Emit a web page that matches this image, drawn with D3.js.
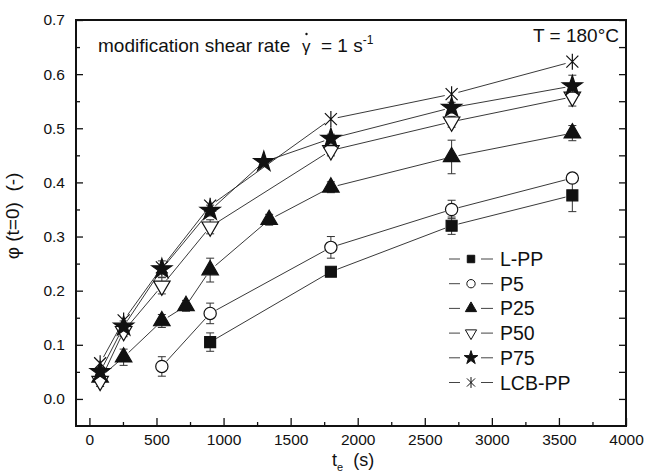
<!DOCTYPE html>
<html>
<head>
<meta charset="utf-8">
<script src="https://cdn.jsdelivr.net/npm/d3@7"></script>
<style>
  body { margin: 0; background: #fff; }
  text { font-family: "Liberation Sans", Arial, sans-serif; fill: #111; }
</style>
</head>
<body>
<script>
var svgWidth = 646;
var svgHeight = 474;

// DATA
var seriesNames = ["L-PP", "P5", "P25", "P50", "P75", "LCB-PP"];

var lppTime = [900, 1800, 2700, 3600];
var lppPhi  = [0.105, 0.235, 0.32, 0.376];
var lppErr  = [0.017, 0.008, 0.016, 0.03];

var p5Time = [540, 900, 1800, 2700, 3600];
var p5Phi  = [0.06, 0.158, 0.28, 0.35, 0.408];
var p5Err  = [0.018, 0.019, 0.02, 0.017, 0.008];

var p25Time = [80, 255, 540, 720, 900, 1340, 1800, 2700, 3600];
var p25Phi  = [0.04, 0.077, 0.144, 0.172, 0.238, 0.331, 0.391, 0.447, 0.491];
var p25Err  = [0.008, 0.015, 0.012, 0.01, 0.022, 0.01, 0.01, 0.031, 0.014];

var p50Time = [80, 255, 540, 900, 1800, 2700, 3600];
var p50Phi  = [0.033, 0.125, 0.209, 0.318, 0.459, 0.512, 0.558];
var p50Err  = [0.01, 0.01, 0.015, 0.013, 0.01, 0.01, 0.017];

var p75Time = [80, 255, 540, 900, 1300, 1800, 2700, 3600];
var p75Phi  = [0.05, 0.134, 0.24, 0.348, 0.438, 0.481, 0.538, 0.578];
var p75Err  = [0.008, 0.01, 0.015, 0.01, 0.006, 0.008, 0.01, 0.02];

var lcbTime = [80, 255, 540, 900, 1800, 2700, 3600];
var lcbPhi  = [0.066, 0.145, 0.243, 0.357, 0.517, 0.563, 0.623];
var lcbErr  = [0, 0, 0, 0, 0, 0, 0];

var xMajorTicks = [0, 500, 1000, 1500, 2000, 2500, 3000, 3500, 4000];
var yMajorTicks = [0.0, 0.1, 0.2, 0.3, 0.4, 0.5, 0.6, 0.7];

var margin = { top: 20, right: 20, bottom: 48, left: 76 };
var chartWidth = svgWidth - margin.left - margin.right;
var chartHeight = svgHeight - margin.top - margin.bottom;

var svg = d3.select("body").append("svg")
  .attr("width", svgWidth)
  .attr("height", svgHeight);

var chartGroup = svg.append("g")
  .attr("transform", `translate(${margin.left}, ${margin.top})`);

// SCALES
var xScale = d3.scaleLinear().domain([-100, 4000]).range([0, chartWidth]);
var yScale = d3.scaleLinear().domain([-0.05, 0.7]).range([chartHeight, 0]);

var xMinor = d3.range(250, 4000, 500);
var yMinor = d3.range(0, 14).map(function(i) { return -0.05 + i * 0.1; }).filter(function(v) { return v > -0.04; });
var yAll = d3.range(0, 15).map(function(i) { return Math.round((i * 0.05) * 100) / 100; });

// AXES (ticks pointing inwards)
var bottomAxis = d3.axisBottom(xScale).tickValues(xMajorTicks)
  .tickSizeInner(-8).tickSizeOuter(0).tickPadding(8).tickFormat(d3.format("d"));
var leftAxis = d3.axisLeft(yScale).tickValues(yMajorTicks)
  .tickSizeInner(-7).tickSizeOuter(0).tickPadding(11).tickFormat(d3.format(".1f"));

var gx = chartGroup.append("g").attr("transform", `translate(0, ${chartHeight})`).call(bottomAxis);
var gy = chartGroup.append("g").call(leftAxis);
chartGroup.append("g").attr("transform", `translate(0, ${chartHeight})`)
  .call(d3.axisBottom(xScale).tickValues(xMinor).tickSizeInner(-4).tickSizeOuter(0).tickFormat(""));
chartGroup.append("g")
  .call(d3.axisLeft(yScale).tickValues(yMinor).tickSizeInner(-4).tickSizeOuter(0).tickFormat(""));
chartGroup.append("g").attr("transform", `translate(${chartWidth}, 0)`)
  .call(d3.axisRight(yScale).tickValues(yAll).tickSizeInner(-7).tickSizeOuter(0).tickFormat(""));

chartGroup.selectAll(".domain").remove();
chartGroup.selectAll(".tick line").attr("stroke", "#111").attr("stroke-width", 1.3);
gx.selectAll("text").style("font-size", "15.5px").style("font-family", "Liberation Sans, Arial, sans-serif");
gy.selectAll("text").style("font-size", "15.5px").style("font-family", "Liberation Sans, Arial, sans-serif");

chartGroup.append("rect")
  .attr("width", chartWidth).attr("height", chartHeight)
  .attr("fill", "none").attr("stroke", "#111").attr("stroke-width", 2);

// MARKERS
function asteriskPath(r) {
  var a = r * 0.75;
  return `M0,${-r}L0,${r}M${-a},${-a}L${a},${a}M${-a},${a}L${a},${-a}`;
}
var markerDefs = [
  { path: function(s) { return d3.symbol(d3.symbolSquare, 120 * s * s)(); }, fill: "#111", rot: 0 },
  { path: function(s) { return d3.symbol(d3.symbolCircle, 118 * s * s)(); }, fill: "#fff", rot: 0 },
  { path: function(s) { return d3.symbol(d3.symbolTriangle, 118 * s * s)(); }, fill: "#111", rot: 0 },
  { path: function(s) { return d3.symbol(d3.symbolTriangle, 118 * s * s)(); }, fill: "#fff", rot: 180 },
  { path: function(s) { return d3.symbol(d3.symbolStar, 125 * s * s)(); }, fill: "#111", rot: 0 },
  { path: function(s) { return asteriskPath(8 * s); }, fill: "none", rot: 0 }
];

var series = [
  { t: lppTime, v: lppPhi, e: lppErr },
  { t: p5Time, v: p5Phi, e: p5Err },
  { t: p25Time, v: p25Phi, e: p25Err },
  { t: p50Time, v: p50Phi, e: p50Err },
  { t: p75Time, v: p75Phi, e: p75Err },
  { t: lcbTime, v: lcbPhi, e: lcbErr }
].map(function(s, i) {
  return {
    name: seriesNames[i],
    marker: markerDefs[i],
    points: s.t.map(function(t, j) { return { t: t, v: s.v[j], e: s.e[j] }; })
  };
});

// CONNECTING LINES (with small gaps round the symbols)
var gap = 7;
series.forEach(function(s) {
  var segs = d3.pairs(s.points);
  chartGroup.append("g").selectAll("line").data(segs).enter().append("line")
    .each(function(p) {
      var x1 = xScale(p[0].t), y1 = yScale(p[0].v), x2 = xScale(p[1].t), y2 = yScale(p[1].v);
      var len = Math.hypot(x2 - x1, y2 - y1), ux = (x2 - x1) / len, uy = (y2 - y1) / len;
      d3.select(this)
        .attr("x1", x1 + ux * gap).attr("y1", y1 + uy * gap)
        .attr("x2", x2 - ux * gap).attr("y2", y2 - uy * gap);
    })
    .attr("stroke", "#222").attr("stroke-width", 0.9);
});

// ERROR BARS
series.forEach(function(s) {
  var eg = chartGroup.append("g").selectAll("g").data(s.points.filter(function(d) { return d.e > 0; }))
    .enter().append("g").attr("stroke", "#333").attr("stroke-width", 1);
  eg.append("line")
    .attr("x1", function(d) { return xScale(d.t); }).attr("x2", function(d) { return xScale(d.t); })
    .attr("y1", function(d) { return yScale(d.v - d.e); }).attr("y2", function(d) { return yScale(d.v + d.e); });
  [-1, 1].forEach(function(sign) {
    eg.append("line")
      .attr("x1", function(d) { return xScale(d.t) - 4; }).attr("x2", function(d) { return xScale(d.t) + 4; })
      .attr("y1", function(d) { return yScale(d.v + sign * d.e); }).attr("y2", function(d) { return yScale(d.v + sign * d.e); });
  });
});

// POINTS
series.forEach(function(s) {
  chartGroup.append("g").selectAll("path").data(s.points).enter().append("path")
    .attr("d", s.marker.path(1))
    .attr("transform", function(d) { return `translate(${xScale(d.t)},${yScale(d.v)}) rotate(${s.marker.rot})`; })
    .attr("fill", s.marker.fill)
    .attr("stroke", "#111").attr("stroke-width", 1.2);
});

// LEGEND
var legend = svg.append("g").attr("transform", "translate(449, 259)");
var rows = legend.selectAll("g").data(series).enter().append("g")
  .attr("transform", function(d, i) { return `translate(0, ${i * 24.7})`; });
rows.append("line").attr("x1", 0).attr("x2", 11).attr("stroke", "#444").attr("stroke-width", 1);
rows.append("line").attr("x1", 32).attr("x2", 44).attr("stroke", "#444").attr("stroke-width", 1);
rows.append("path")
  .attr("d", function(d) { return d.marker.path(0.68); })
  .attr("transform", function(d) { return `translate(22,0) rotate(${d.marker.rot})`; })
  .attr("fill", function(d) { return d.marker.fill; })
  .attr("stroke", "#111").attr("stroke-width", 1);
rows.append("text").attr("x", 51).attr("dy", "0.36em")
  .style("font-size", "19.5px")
  .text(function(d) { return d.name; });

// ANNOTATIONS
svg.append("text").attr("x", 98).attr("y", 52).style("font-size", "19px")
  .text("modification shear rate");
svg.append("text").attr("x", 302).attr("y", 52).style("font-size", "17px").text("γ");
svg.append("circle").attr("cx", 306.5).attr("cy", 34).attr("r", 1.2).attr("fill", "#111");
var rateText = svg.append("text").attr("x", 321).attr("y", 52).style("font-size", "19px");
rateText.append("tspan").text("= 1 s");
rateText.append("tspan").attr("dy", -8).style("font-size", "12px").text("-1");

svg.append("text").attr("x", 619).attr("y", 42).attr("text-anchor", "end")
  .style("font-size", "19px").text("T = 180°C");

// AXIS TITLES
var xTitle = svg.append("text").attr("x", 332).attr("y", 466).style("font-size", "18px")
  .style("white-space", "pre");
xTitle.append("tspan").text("t");
xTitle.append("tspan").attr("dy", 5).style("font-size", "11px").text("e");
xTitle.append("tspan").attr("dy", -5).text("  (s)");

svg.append("text")
  .attr("transform", "translate(19, 216) rotate(-90)")
  .attr("text-anchor", "middle")
  .style("font-size", "19px").style("white-space", "pre")
  .text("φ (t=0)  (-)");
</script>
</body>
</html>
